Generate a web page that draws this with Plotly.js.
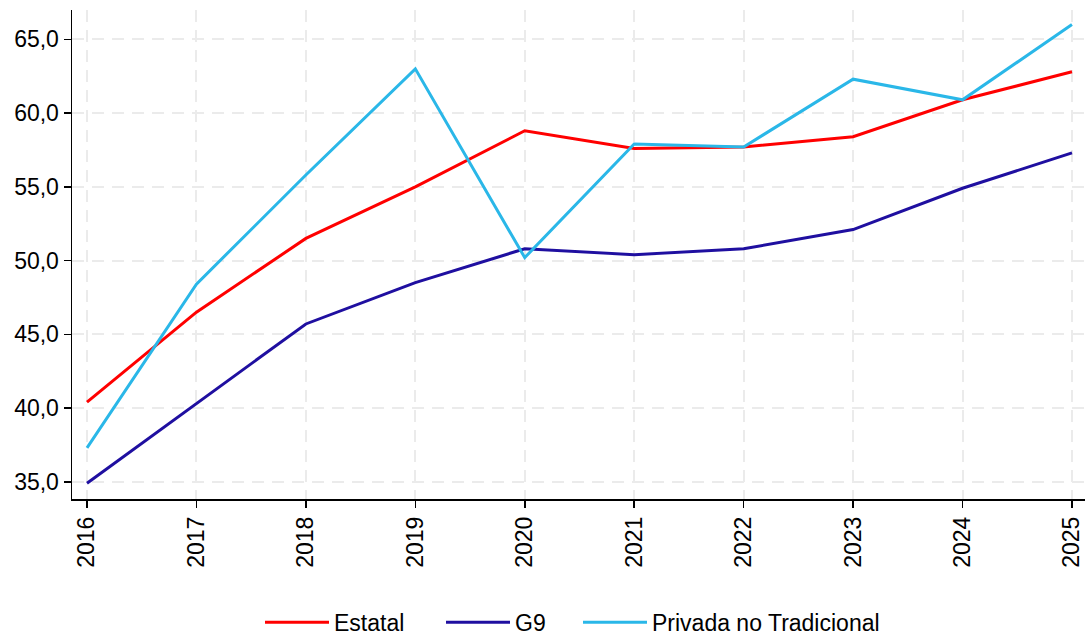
<!DOCTYPE html>
<html>
<head>
<meta charset="utf-8">
<script src="https://cdn.plot.ly/plotly-3.0.1.min.js"></script>
<style>html,body{margin:0;padding:0;background:#fff;}#chart{width:1086px;height:635px;}</style>
</head>
<body>
<div id="chart"></div>
<script>
const years = [2016, 2017, 2018, 2019, 2020, 2021, 2022, 2023, 2024, 2025];
const estatal = [40.4, 46.5, 51.5, 55.0, 58.8, 57.6, 57.7, 58.4, 60.9, 62.8];
const g9 = [34.9, 40.3, 45.7, 48.5, 50.8, 50.4, 50.8, 52.1, 54.9, 57.3];
const privada = [37.3, 48.4, 55.8, 63.0, 50.2, 57.9, 57.7, 62.3, 60.9, 66.0];
const yTicks = [35, 40, 45, 50, 55, 60, 65];

const traces = [
  {x: years, y: estatal, name: 'Estatal', mode: 'lines', line: {color: '#ff0000', width: 3}, legend: 'legend'},
  {x: years, y: g9, name: 'G9', mode: 'lines', line: {color: '#1f0fa0', width: 3}, legend: 'legend2'},
  {x: years, y: privada, name: 'Privada no Tradicional', mode: 'lines', line: {color: '#2ab7e8', width: 3}, legend: 'legend3'}
];

function leg(xpx) {
  return {orientation: 'h', x: (xpx - 72) / 1013, xanchor: 'left', yref: 'container', y: 0.02, yanchor: 'middle',
          font: {size: 23}, itemwidth: 64, bgcolor: 'rgba(0,0,0,0)'};
}

const layout = {
  width: 1086, height: 635,
  margin: {l: 72, r: 1, t: 10, b: 136, autoexpand: false},
  paper_bgcolor: '#fff', plot_bgcolor: '#fff',
  separators: ',.',
  font: {family: 'Liberation Sans, Arial, sans-serif', size: 23, color: '#000'},
  xaxis: {
    range: [2015.863, 2025.119],
    tickvals: years, ticktext: years.map(String),
    tickangle: -90, automargin: false,
    showgrid: true, gridcolor: '#ebebeb', griddash: '12px,8px', gridwidth: 2,
    showline: true, linecolor: '#000', linewidth: 1.5,
    ticks: 'outside', ticklen: 7, tickwidth: 1.5, tickcolor: '#000',
    zeroline: false, tickfont: {size: 23}
  },
  yaxis: {
    range: [33.83, 66.99],
    tickvals: yTicks, tickformat: '.1f', automargin: false,
    showgrid: true, gridcolor: '#ebebeb', griddash: '12px,8px', gridwidth: 2,
    showline: true, linecolor: '#000', linewidth: 1.5,
    ticks: 'outside', ticklen: 7, tickwidth: 1.5, tickcolor: '#000',
    zeroline: false, tickfont: {size: 23}
  },
  showlegend: true,
  legend: leg(260),
  legend2: leg(441),
  legend3: leg(578)
};

Plotly.newPlot('chart', traces, layout, {displayModeBar: false, staticPlot: true});
</script>
</body>
</html>
